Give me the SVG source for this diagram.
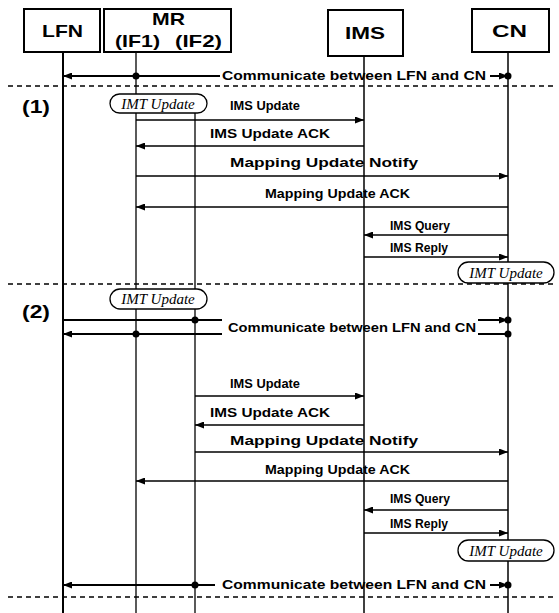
<svg xmlns="http://www.w3.org/2000/svg" width="559" height="613" viewBox="0 0 559 613">
<defs>
<marker id="ah" viewBox="0 0 9 7" refX="9" refY="3.5" markerWidth="9" markerHeight="7" markerUnits="userSpaceOnUse" orient="auto"><path d="M0,0 L9,3.5 L0,7 z" fill="#000"/></marker>
</defs>
<style>
.box{fill:#fff;stroke:#000;stroke-width:2}
.hd{font-family:"Liberation Sans",Arial,sans-serif;font-weight:bold;font-size:17px;fill:#000}
.life{stroke:#000;fill:none}
.sep{stroke:#000;stroke-width:1.5;stroke-dasharray:5 4;fill:none}
.msg{stroke:#000;stroke-width:1.3;fill:none;marker-end:url(#ah)}
.com{stroke:#000;stroke-width:2;fill:none}
.coma{stroke:#000;stroke-width:2;fill:none;marker-end:url(#ah)}
.lbl{font-family:"Liberation Sans",Arial,sans-serif;font-weight:bold;font-size:13px;fill:#000}
.sec{font-family:"Liberation Sans",Arial,sans-serif;font-weight:bold;font-size:18px;fill:#000}
.note{fill:#fff;stroke:#000;stroke-width:1.3}
.nt{font-family:"Liberation Serif","Times New Roman",serif;font-style:italic;font-size:15px;text-anchor:middle;fill:#000}
.dot{fill:#000}
</style>
<rect width="559" height="613" fill="#fff"/>
<g id="separators">
<line class="sep" x1="8" y1="86" x2="556" y2="86"/>
<line class="sep" x1="8" y1="284" x2="556" y2="284"/>
<line class="sep" x1="8" y1="597" x2="556" y2="597"/>
</g>
<g id="LFN">
<line class="life" x1="63" y1="52" x2="63" y2="613" stroke-width="2"/>
<rect class="box" x="24" y="9" width="76" height="43"/>
<text class="hd" x="42" y="37" textLength="41" lengthAdjust="spacingAndGlyphs">LFN</text>
</g>
<g id="MR">
<line class="life" x1="136" y1="52" x2="136" y2="613" stroke-width="1.3"/>
<line class="life" x1="195" y1="113" x2="195" y2="613" stroke-width="1.3"/>
<rect class="box" x="104" y="9" width="127" height="43"/>
<text class="hd" x="152" y="25" textLength="33" lengthAdjust="spacingAndGlyphs">MR</text>
<text class="hd" x="115" y="47" textLength="45" lengthAdjust="spacingAndGlyphs">(IF1)</text>
<text class="hd" x="175" y="47" textLength="47" lengthAdjust="spacingAndGlyphs">(IF2)</text>
</g>
<g id="IMS">
<line class="life" x1="364" y1="56" x2="364" y2="613" stroke-width="1.5"/>
<rect class="box" x="328" y="10" width="75" height="46"/>
<text class="hd" x="345" y="39" textLength="40" lengthAdjust="spacingAndGlyphs">IMS</text>
</g>
<g id="CN">
<line class="life" x1="508" y1="52" x2="508" y2="613" stroke-width="1.5"/>
<rect class="box" x="472" y="9" width="77" height="43"/>
<text class="hd" x="492" y="37" textLength="35" lengthAdjust="spacingAndGlyphs">CN</text>
</g>
<g id="sections">
<text class="sec" x="22" y="113" textLength="28" lengthAdjust="spacingAndGlyphs">(1)</text>
<text class="sec" x="22" y="318" textLength="28" lengthAdjust="spacingAndGlyphs">(2)</text>
</g>
<g id="notes">
<rect class="note" x="110" y="94" width="97" height="19" rx="9.5"/>
<text class="nt" x="158" y="108.5">IMT Update</text>
<rect class="note" x="458" y="262" width="96" height="21" rx="10.5"/>
<text class="nt" x="506" y="277.5">IMT Update</text>
<rect class="note" x="110" y="289" width="97" height="20" rx="10"/>
<text class="nt" x="158" y="304">IMT Update</text>
<rect class="note" x="458" y="540" width="96" height="21" rx="10.5"/>
<text class="nt" x="506" y="555.5">IMT Update</text>
</g>
<g id="connectors">
<line class="coma" x1="220" y1="76" x2="63" y2="76"/>
<circle class="dot" cx="136" cy="76" r="3.5"/>
<line class="coma" x1="490" y1="76" x2="508" y2="76"/>
<circle class="dot" cx="508" cy="76" r="3.5"/>
<line class="msg" x1="136" y1="120" x2="364" y2="120"/>
<line class="msg" x1="364" y1="146" x2="136" y2="146"/>
<line class="msg" x1="136" y1="176" x2="508" y2="176"/>
<line class="msg" x1="508" y1="207" x2="136" y2="207"/>
<line class="msg" x1="508" y1="235" x2="364" y2="235"/>
<line class="msg" x1="364" y1="257" x2="508" y2="257"/>
<line class="com" x1="63" y1="320" x2="222" y2="320"/>
<circle class="dot" cx="195" cy="320" r="3.5"/>
<line class="coma" x1="478" y1="320" x2="508" y2="320"/>
<circle class="dot" cx="508" cy="320" r="3.5"/>
<line class="coma" x1="222" y1="334" x2="63" y2="334"/>
<circle class="dot" cx="136" cy="334" r="3.5"/>
<line class="com" x1="478" y1="334" x2="508" y2="334"/>
<circle class="dot" cx="508" cy="334" r="3.5"/>
<line class="msg" x1="195" y1="396" x2="364" y2="396"/>
<line class="msg" x1="364" y1="425" x2="195" y2="425"/>
<line class="msg" x1="195" y1="452" x2="508" y2="452"/>
<line class="msg" x1="508" y1="481" x2="136" y2="481"/>
<line class="msg" x1="508" y1="510" x2="364" y2="510"/>
<line class="msg" x1="364" y1="533" x2="508" y2="533"/>
<line class="coma" x1="215" y1="585" x2="63" y2="585"/>
<circle class="dot" cx="195" cy="585" r="3.5"/>
<line class="coma" x1="490" y1="585" x2="508" y2="585"/>
<circle class="dot" cx="508" cy="585" r="3.5"/>
</g>
<g id="labels">
<text class="lbl" x="222" y="80" textLength="264" lengthAdjust="spacingAndGlyphs">Communicate between LFN and CN</text>
<text class="lbl" x="230" y="110" textLength="70" lengthAdjust="spacingAndGlyphs">IMS Update</text>
<text class="lbl" x="210" y="138" textLength="120" lengthAdjust="spacingAndGlyphs">IMS Update ACK</text>
<text class="lbl" x="230" y="167" textLength="188" lengthAdjust="spacingAndGlyphs">Mapping Update Notify</text>
<text class="lbl" x="265" y="198" textLength="145" lengthAdjust="spacingAndGlyphs">Mapping Update ACK</text>
<text class="lbl" x="390" y="230" textLength="60" lengthAdjust="spacingAndGlyphs">IMS Query</text>
<text class="lbl" x="390" y="252" textLength="58" lengthAdjust="spacingAndGlyphs">IMS Reply</text>
<text class="lbl" x="228" y="332" textLength="248" lengthAdjust="spacingAndGlyphs">Communicate between LFN and CN</text>
<text class="lbl" x="230" y="388" textLength="70" lengthAdjust="spacingAndGlyphs">IMS Update</text>
<text class="lbl" x="210" y="417" textLength="120" lengthAdjust="spacingAndGlyphs">IMS Update ACK</text>
<text class="lbl" x="230" y="445" textLength="188" lengthAdjust="spacingAndGlyphs">Mapping Update Notify</text>
<text class="lbl" x="265" y="474" textLength="145" lengthAdjust="spacingAndGlyphs">Mapping Update ACK</text>
<text class="lbl" x="390" y="503" textLength="60" lengthAdjust="spacingAndGlyphs">IMS Query</text>
<text class="lbl" x="390" y="528" textLength="58" lengthAdjust="spacingAndGlyphs">IMS Reply</text>
<text class="lbl" x="222" y="589" textLength="264" lengthAdjust="spacingAndGlyphs">Communicate between LFN and CN</text>
</g>
</svg>
